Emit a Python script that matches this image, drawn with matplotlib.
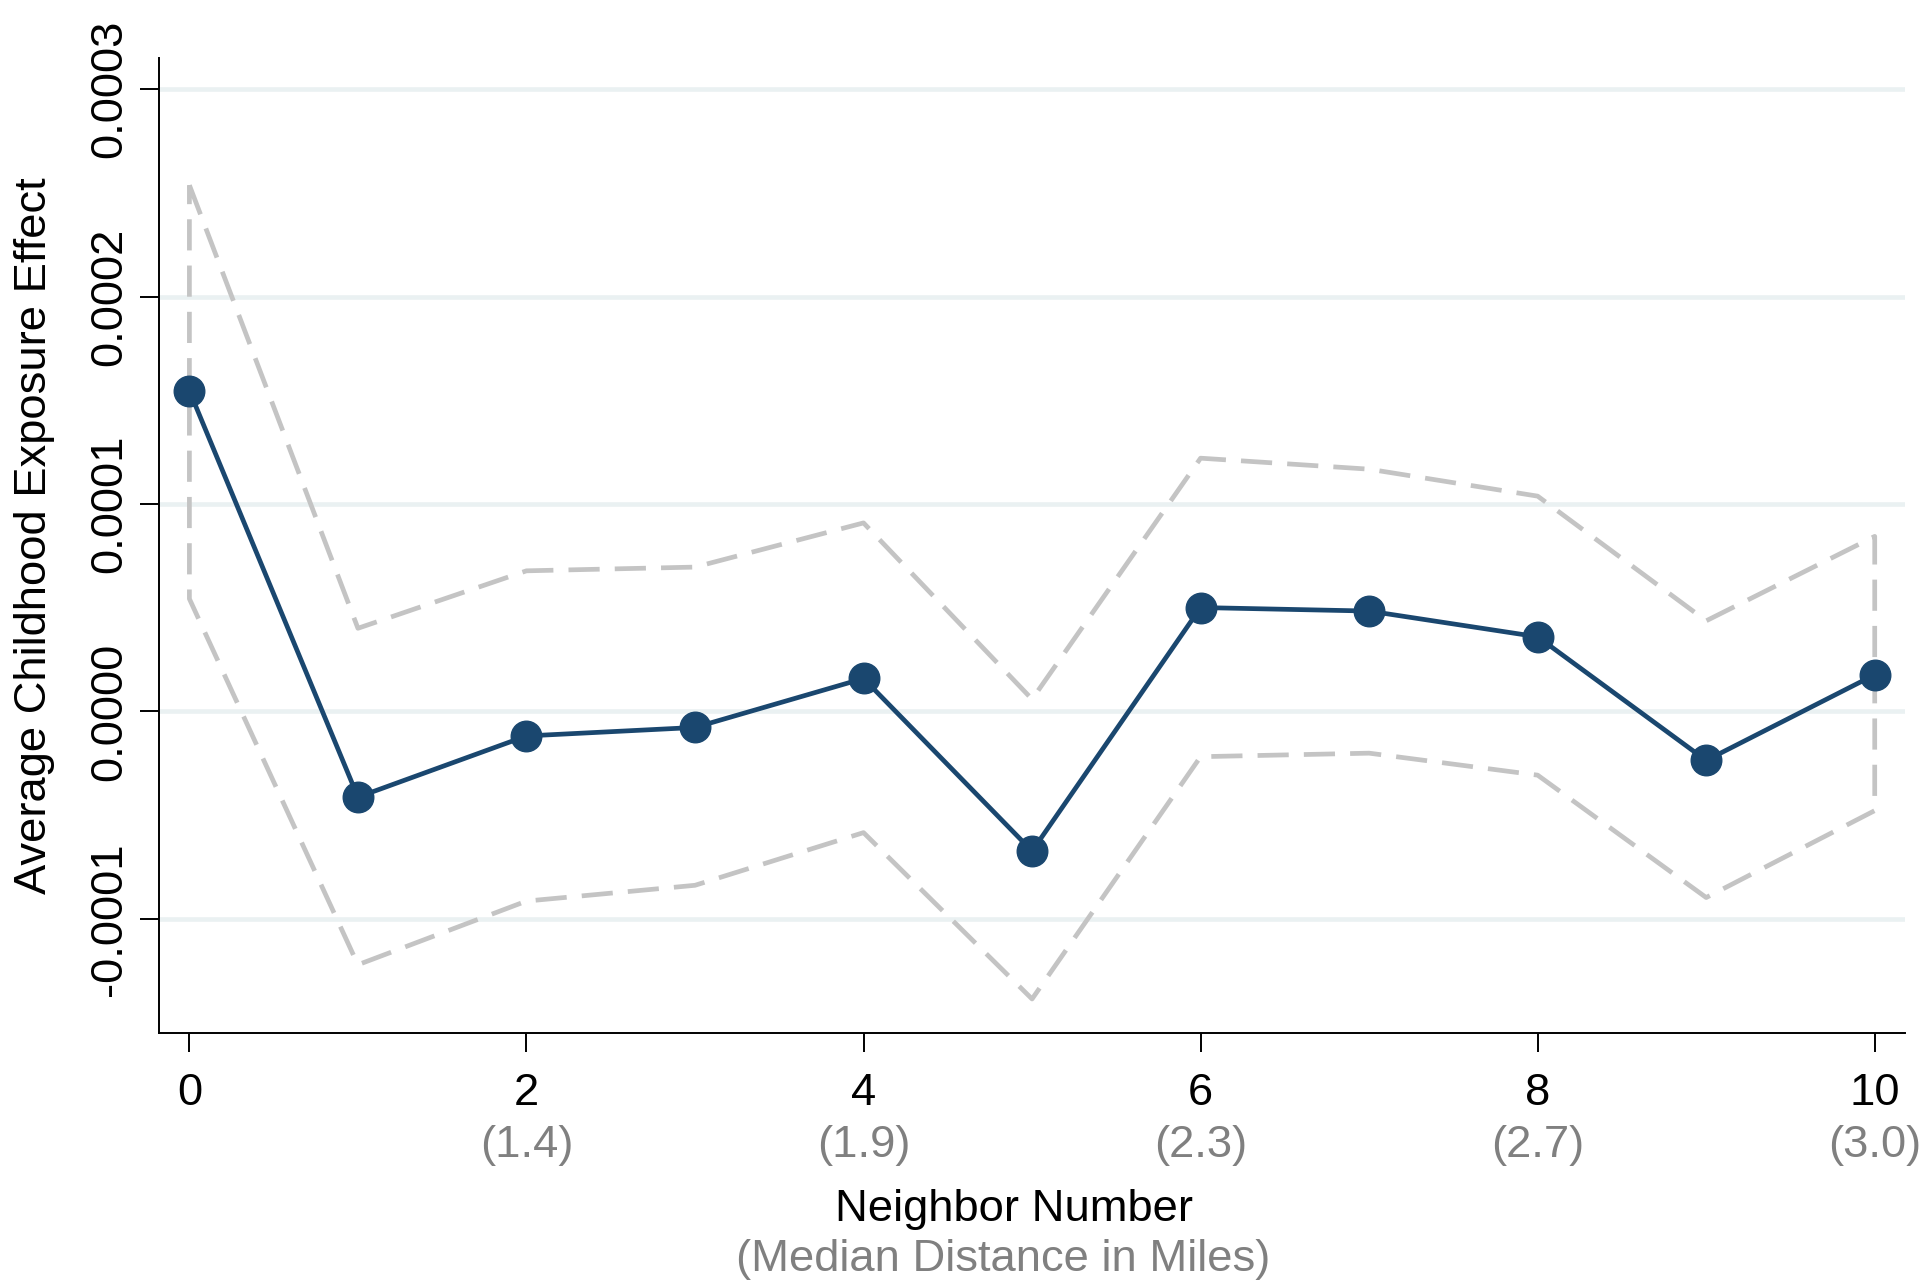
import numpy as np
import matplotlib
matplotlib.use("Agg")
import matplotlib.pyplot as plt

plt.rcParams['font.family'] = ['Liberation Sans', 'DejaVu Sans']

# data
neighbor = [0, 1, 2, 3, 4, 5, 6, 7, 8, 9, 10]
effect = [0.0001546, -0.0000413, -0.0000118, -0.0000077, 0.0000159, -0.0000673,
          0.0000501, 0.0000484, 0.0000360, -0.0000236, 0.0000177]
ci_upper = [0.0002537, 0.0000401, 0.0000678, 0.0000696, 0.0000909, 0.0000059,
            0.0001221, 0.0001168, 0.0001038, 0.0000437, 0.0000844]
ci_lower = [0.0000543, -0.0001221, -0.0000914, -0.0000838, -0.0000584, -0.0001386,
            -0.0000218, -0.0000201, -0.0000307, -0.0000897, -0.0000478]

xticks = [0, 2, 4, 6, 8, 10]
dist_ticks = [2, 4, 6, 8, 10]
dist_miles = ["1.4", "1.9", "2.3", "2.7", "3.0"]
yticks = [-0.0001, 0.0, 0.0001, 0.0002, 0.0003]
ytick_labels = ["-0.0001", "0.0000", "0.0001", "0.0002", "0.0003"]

navy = '#1a476f'
grey = '#c4c4c4'
FS = 32.7

fig = plt.figure(figsize=(19.21, 12.81), dpi=100)
ax = fig.add_axes([0.0828, 0.1936, 0.9089, 0.7611])

for y in yticks:
    ax.axhline(y, color='#eaf1f2', lw=3.3, zorder=0)

# confidence band drawn as closed outline
band_x = neighbor + neighbor[::-1] + [neighbor[0]]
band_y = ci_upper + ci_lower[::-1] + [ci_upper[0]]
ax.plot(band_x, band_y, color=grey, lw=3.4, dashes=(6.6, 3.2), zorder=2,
        clip_on=False)

ax.plot(neighbor, effect, color=navy, lw=3.4, marker='o', ms=22,
        zorder=3, clip_on=False)

ax.set_xlim(-0.18, 10.18)
ax.set_ylim(-0.000155, 0.000315)

ax.set_yticks(yticks)
ax.set_yticklabels(ytick_labels, rotation=90, va='center', fontsize=FS)
ax.set_xticks(xticks)
ax.set_xticklabels([str(t) for t in xticks], fontsize=FS)
ax.tick_params(axis='y', length=14, width=1.4, pad=7)
ax.tick_params(axis='x', length=14, width=1.4, pad=15)

for s in ['top', 'right']:
    ax.spines[s].set_visible(False)
for s in ['left', 'bottom']:
    ax.spines[s].set_linewidth(1.4)

for x, d in zip(dist_ticks, dist_miles):
    ax.annotate("(" + d + ")", xy=(x, 0), xycoords=('data', 'axes fraction'),
                xytext=(0, -81), textcoords='offset points', ha='center',
                va='center', fontsize=FS, color='#808080', annotation_clip=False)

ax.annotate("Neighbor Number", xy=(0.4897, 0), xycoords='axes fraction',
            xytext=(0, -127), textcoords='offset points', ha='center',
            va='center', fontsize=FS, color='black')
ax.annotate("(Median Distance in Miles)", xy=(0.4834, 0), xycoords='axes fraction',
            xytext=(0, -163), textcoords='offset points', ha='center',
            va='center', fontsize=FS, color='#808080')

ax.set_ylabel("Average Childhood Exposure Effect", fontsize=FS, va='center')
ax.yaxis.set_label_coords(-0.0716, 0.51)

fig.savefig('out.png', dpi=100)
